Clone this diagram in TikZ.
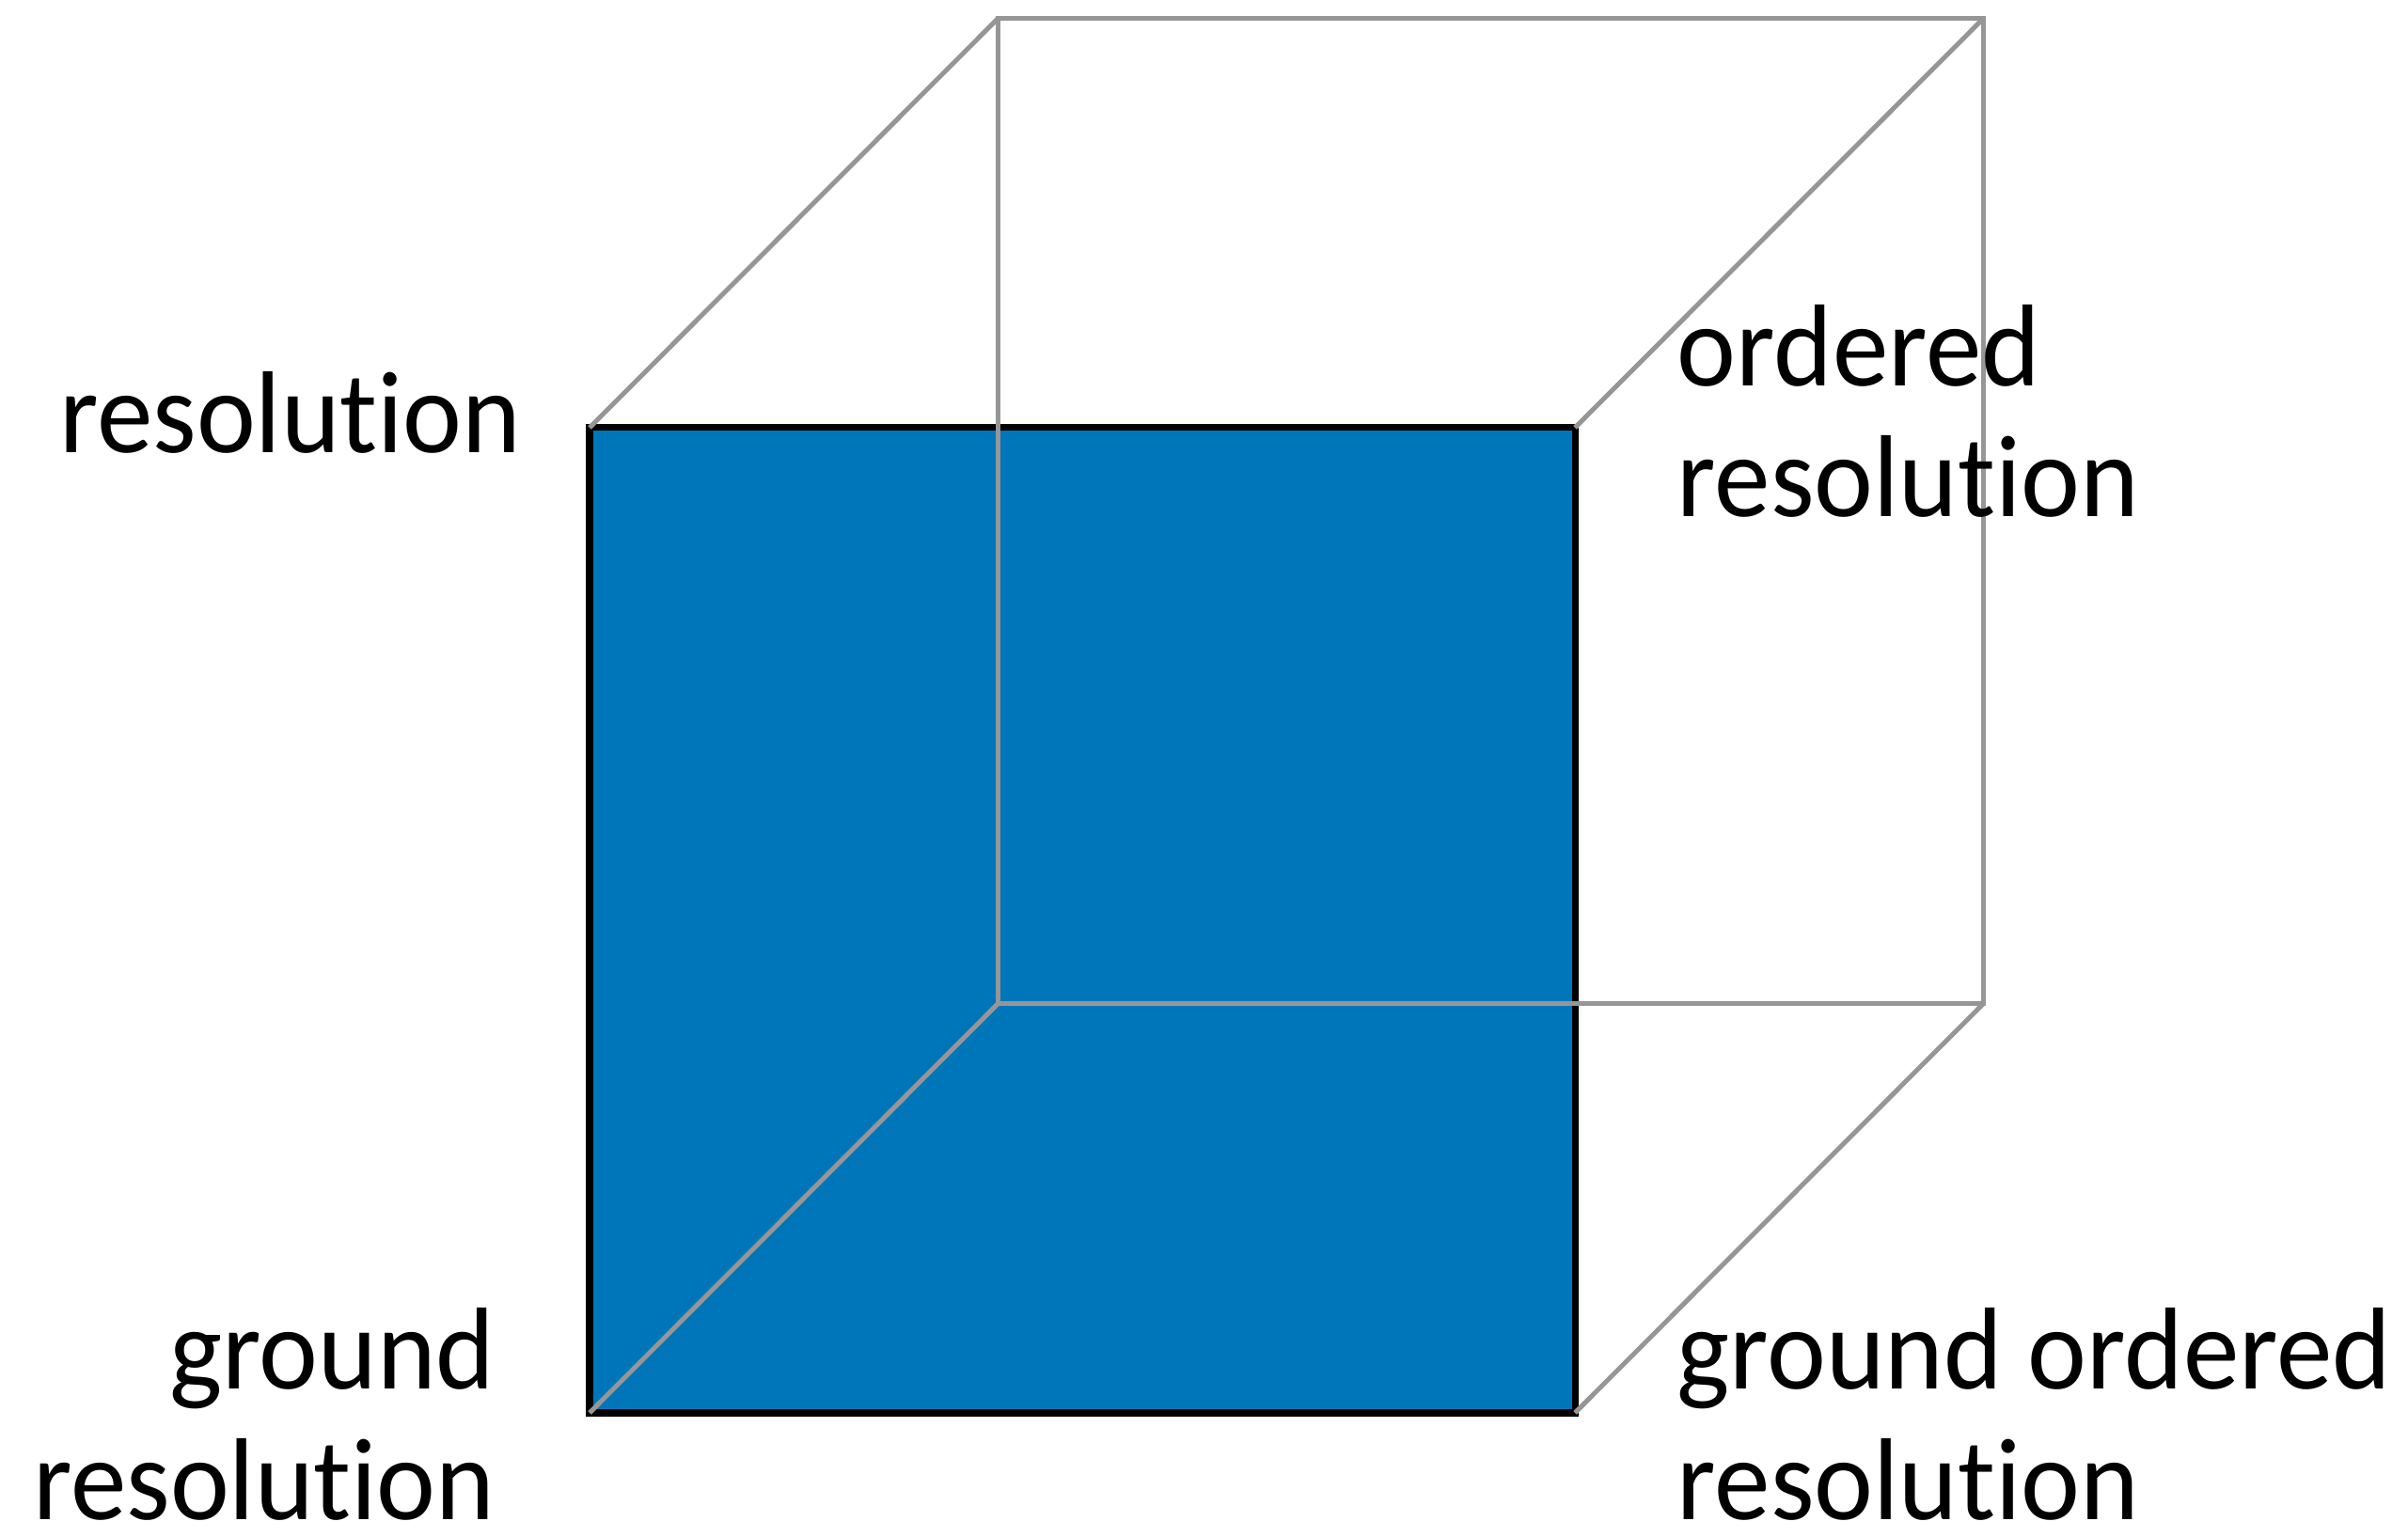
\documentclass[tikz,border=0pt]{standalone}
\usepackage{fontspec}
\setmainfont{Carlito}[Ligatures=NoCommon, FakeStretch=0.96]
\definecolor{faceblue}{RGB}{0,118,186}
\definecolor{edgegray}{RGB}{150,150,150}

\begin{document}
\begin{tikzpicture}[edge/.style={edgegray, line width=1.42pt}, lbl/.style={inner sep=0, font=\fontsize{35.3}{39.8}\selectfont}]
	\useasboundingbox (0,0) rectangle (25.61,16.35);
	
	\coordinate (f1) at (6.27,1.32);
	\coordinate (f2) at (16.75,1.32);
	\coordinate (f3) at (16.75,11.80);
	\coordinate (f4) at (6.27,11.80);
	
	\coordinate (b1) at (10.61,5.67);
	\coordinate (b2) at (21.09,5.67);
	\coordinate (b3) at (21.09,16.15);
	\coordinate (b4) at (10.61,16.15);
	
	\filldraw[fill=faceblue, draw=black, line width=2pt] (f1) -- (f2) -- (f3) -- (f4) -- cycle;
	
	\draw[edge] (b1) -- (b2) -- (b3) -- (b4) -- cycle;
	\draw[edge] (f1) -- (b1);
	\draw[edge] (f2) -- (b2);
	\draw[edge] (f3) -- (b3);
	\draw[edge] (f4) -- (b4);
	
	\node[lbl, anchor=base east] (res) at (5.55,11.53) {resolution};
	\node[lbl, anchor=base west, align=left] (ordres) at (17.83,10.85) {ordered\\resolution};
	\node[lbl, anchor=base east, align=right] (grres) at (5.27,0.18) {ground\\resolution};
	\node[lbl, anchor=base west, align=left] (grordres) at (17.83,0.18) {ground ordered\\resolution};
	
\end{tikzpicture}
\end{document}
